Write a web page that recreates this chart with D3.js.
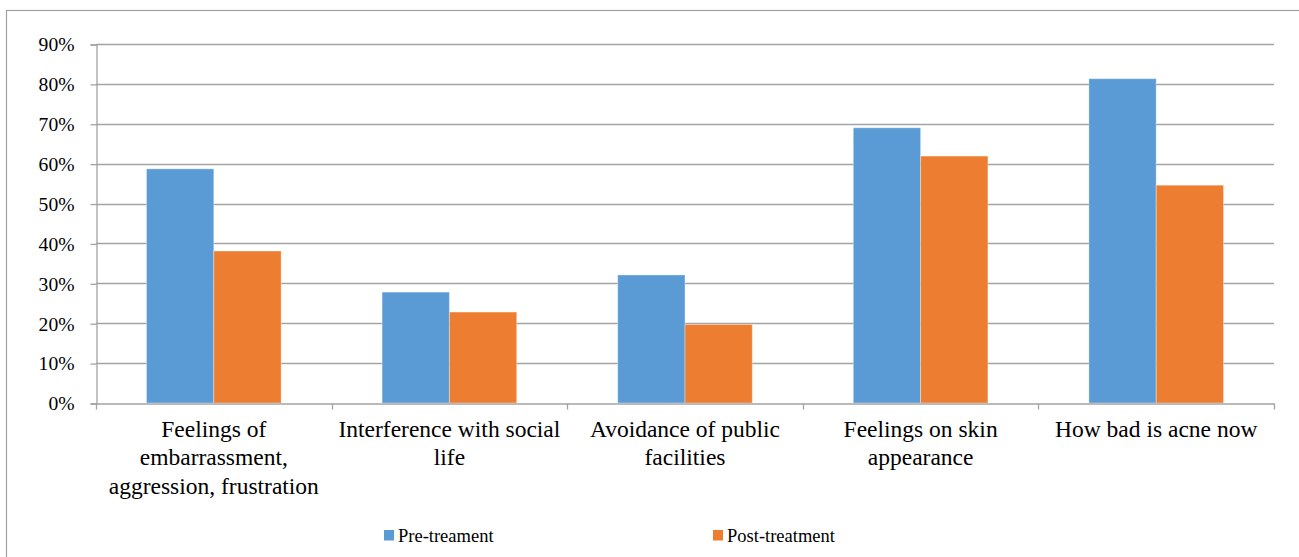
<!DOCTYPE html>
<html>
<head>
<meta charset="utf-8">
<script src="https://cdn.jsdelivr.net/npm/d3@7"></script>
<style>
  html, body { margin: 0; padding: 0; background: #fff; }
  svg { display: block; }
  text { font-family: "Times New Roman", "Liberation Serif", Tinos, "DejaVu Serif", serif; fill: #000; }
</style>
</head>
<body>
<svg id="chart" width="1299" height="557"></svg>
<script>
// Category labels, already broken into display lines
const categories = [
  ["Feelings of", "embarrassment,", "aggression, frustration"],
  ["Interference with social", "life"],
  ["Avoidance of public", "facilities"],
  ["Feelings on skin", "appearance"],
  ["How bad is acne now"]
];
const seriesNames = ["Pre-treament", "Post-treatment"];
const preValues  = [0.587, 0.278, 0.321, 0.690, 0.813];
const postValues = [0.381, 0.228, 0.197, 0.619, 0.546];
const yTicks = [0, 0.1, 0.2, 0.3, 0.4, 0.5, 0.6, 0.7, 0.8, 0.9];
const colors = ["#5B9BD5", "#ED7D31"];

const serif = "\"Times New Roman\", \"Liberation Serif\", Tinos, \"DejaVu Serif\", serif";
const svg = d3.select("#chart");
const plot = { left: 96, right: 1274, top: 44, bottom: 403 };
const gridColor = "#a3a3a3";

// outer chart frame
svg.append("rect")
  .attr("x", 6.5).attr("y", 10.5)
  .attr("width", 1400).attr("height", 700)
  .attr("fill", "none").attr("stroke", "#a0a0a0").attr("stroke-width", 1.2);

const keys = categories.map((c, i) => i);
const x = d3.scaleBand().domain(keys).range([plot.left, plot.right]).padding(0);
const xs = d3.scaleBand().domain([0, 1]).range([0, x.bandwidth()])
  .paddingInner(0).paddingOuter(0.75);
const y = d3.scaleLinear().domain([0, 0.9]).range([plot.bottom, plot.top]);

// horizontal gridlines
svg.append("g").selectAll("line").data(yTicks.filter(t => t > 0)).join("line")
  .attr("x1", plot.left).attr("x2", plot.right)
  .attr("y1", d => Math.round(y(d)) + 0.5).attr("y2", d => Math.round(y(d)) + 0.5)
  .attr("stroke", gridColor).attr("stroke-width", 1.3);

// y axis
const yAxis = d3.axisLeft(y).tickValues(yTicks).tickFormat(d3.format(".0%"))
  .tickSize(6).tickPadding(16);
const gy = svg.append("g").attr("transform", `translate(${plot.left + 0.5},0.5)`).call(yAxis)
  .attr("font-family", serif);
gy.select(".domain").attr("stroke", gridColor).attr("stroke-width", 1.3);
gy.selectAll(".tick line").attr("stroke", gridColor).attr("stroke-width", 1.3);
gy.selectAll(".tick text")
  .style("font-family", serif)
  .style("font-size", "19.6px").attr("fill", "#000");

// bars
const series = [preValues, postValues];
const groups = svg.append("g").selectAll("g").data(series).join("g")
  .attr("fill", (d, i) => colors[i]);
groups.each(function(vals, si) {
  d3.select(this).selectAll("rect").data(vals).join("rect")
    .attr("x", (d, i) => x(i) + xs(si))
    .attr("width", xs.bandwidth())
    .attr("y", d => y(d))
    .attr("height", d => y(0) - y(d))
    .attr("stroke", "#ffffff").attr("stroke-opacity", 0.35).attr("stroke-width", 1);
});

// x axis
const xAxis = d3.axisBottom(x).tickSize(0).tickFormat("");
const gx = svg.append("g").attr("transform", `translate(0,${Math.round(y(0)) + 0.5})`).call(xAxis);
gx.select(".domain").attr("stroke", gridColor).attr("stroke-width", 1.3);
// category boundary tick marks
const bounds = keys.map(k => x(k)).concat([plot.right]);
gx.selectAll("line.bound").data(bounds).join("line").attr("class", "bound")
  .attr("x1", d => Math.round(d) + 0.5).attr("x2", d => Math.round(d) + 0.5)
  .attr("y1", 0).attr("y2", 6)
  .attr("stroke", gridColor).attr("stroke-width", 1.3);

// category labels
const labels = svg.append("g").selectAll("text").data(categories).join("text")
  .attr("text-anchor", "middle")
  .style("font-family", serif)
  .style("font-size", "23.5px")
  .attr("transform", (d, i) => `translate(${x(i) + x.bandwidth() / 2},437)`);
labels.selectAll("tspan").data(d => d).join("tspan")
  .attr("x", 0).attr("dy", (d, i) => i === 0 ? 0 : 28.3)
  .text(d => d);

// legend
const legendItems = [
  { name: seriesNames[0], color: colors[0], x: 384 },
  { name: seriesNames[1], color: colors[1], x: 713 }
];
const lg = svg.append("g").selectAll("g").data(legendItems).join("g")
  .attr("transform", d => `translate(${d.x},530)`);
lg.append("rect").attr("width", 10).attr("height", 10.5).attr("fill", d => d.color);
lg.append("text").attr("x", 14).attr("y", 12)
  .style("font-family", serif)
  .style("font-size", "18.5px").text(d => d.name);
</script>
</body>
</html>
